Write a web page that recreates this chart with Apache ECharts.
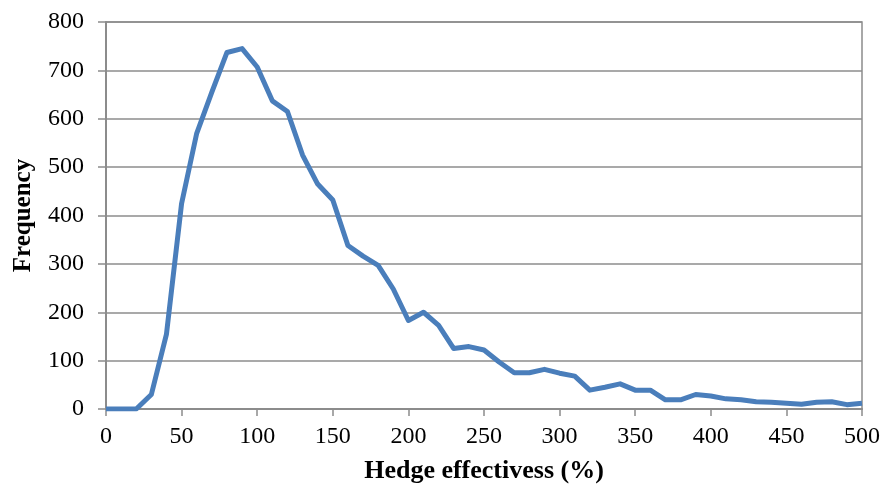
<!DOCTYPE html>
<html>
<head>
<meta charset="utf-8">
<script src="https://cdn.jsdelivr.net/npm/echarts@6/dist/echarts.min.js"></script>
<style>html,body{margin:0;padding:0;background:#fff;}#c{width:884px;height:491px;}</style>
</head>
<body>
<div id="c"></div>
<script>
const xValues = [0,10,20,30,40,50,60,70,80,90,100,110,120,130,140,150,160,170,180,190,200,210,220,230,240,250,260,270,280,290,300,310,320,330,340,350,360,370,380,390,400,410,420,430,440,450,460,470,480,490,500];
const frequency = [0,0,0,30,155,425,570,655,737,745,707,637,615,525,465,432,338,316,297,248,183,200,173,125,129,122,97,75,75,82,74,68,39,45,52,39,39,19,19,30,27,21,19,15,14,12,10,14,15,9,12];
const xTitle = "Hedge effectivess (%)";
const yTitle = "Frequency";

const chart = echarts.init(document.getElementById('c'));
const font = '"Liberation Serif","Times New Roman",serif';
chart.setOption({
  animation: false,
  grid: {left:106, right:22, top:22, bottom:82, containLabel:false, outerBoundsMode:'none', show:true, borderColor:'#8c8c8c', borderWidth:1.5},
  xAxis: {
    type:'value', min:0, max:500, interval:50,
    name: xTitle, nameLocation:'middle', nameGap:49,
    nameTextStyle:{fontFamily:font, fontSize:26, fontWeight:'bold', color:'#000'},
    axisLine:{lineStyle:{color:'#8c8c8c', width:2}},
    axisTick:{show:true, length:7, lineStyle:{color:'#8c8c8c', width:1.5}},
    axisLabel:{fontFamily:font, fontSize:24, color:'#000', margin:16},
    splitLine:{show:false}
  },
  yAxis: {
    type:'value', min:0, max:800, interval:100,
    name: yTitle, nameLocation:'middle', nameGap:70, nameRotate:90,
    nameTextStyle:{fontFamily:font, fontSize:25, fontWeight:'bold', color:'#000'},
    axisLine:{show:true, lineStyle:{color:'#8c8c8c', width:2}},
    axisTick:{show:true, length:8, lineStyle:{color:'#8c8c8c', width:1.5}},
    axisLabel:{fontFamily:font, fontSize:24, color:'#000', margin:22},
    splitLine:{show:true, lineStyle:{color:'#8c8c8c', width:1.5}}
  },
  series: [{
    type:'line',
    data: xValues.map((x,i)=>[x, frequency[i]]),
    showSymbol:false,
    lineStyle:{color:'#4a7ebb', width:5, join:'round'},
    itemStyle:{color:'#4a7ebb'}
  }]
});
</script>
</body>
</html>
